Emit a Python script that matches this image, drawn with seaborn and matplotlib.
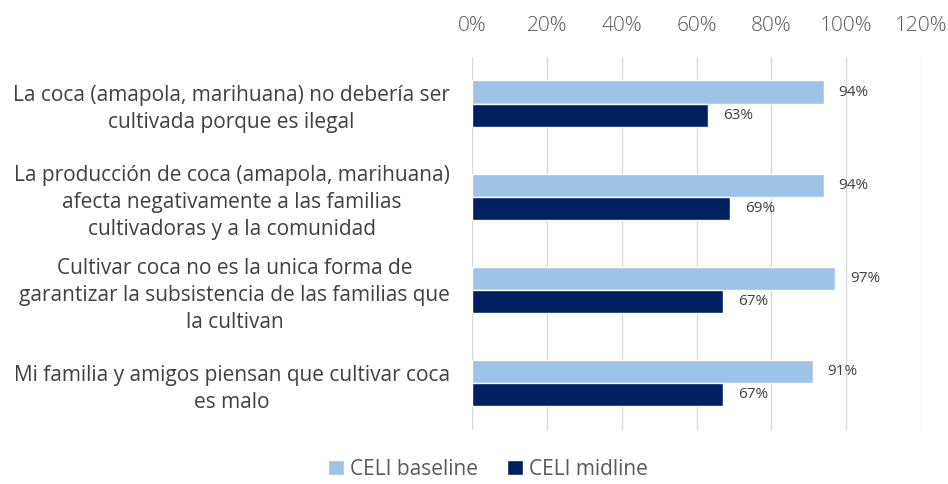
import pandas as pd
import matplotlib
matplotlib.use('Agg')
import matplotlib.pyplot as plt
import seaborn as sns
from matplotlib.patches import Patch

statements = [
    "La coca (amapola, marihuana) no debería ser\ncultivada porque es ilegal",
    "La producción de coca (amapola, marihuana)\nafecta negativamente a las familias\ncultivadoras y a la comunidad",
    "Cultivar coca no es la unica forma de\ngarantizar la subsistencia de las familias que\nla cultivan",
    "Mi familia y amigos piensan que cultivar coca\nes malo",
]
baseline = [0.94, 0.94, 0.97, 0.91]
midline = [0.63, 0.69, 0.67, 0.67]
series = ["CELI baseline", "CELI midline"]
colors = ["#9DC3E6", "#002060"]

rows = []
for s, b, m in zip(statements, baseline, midline):
    rows.append({"statement": s, "group": series[0], "value": b})
    rows.append({"statement": s, "group": series[1], "value": m})
df = pd.DataFrame(rows)

sns.set_style("white")
plt.rcParams['font.family'] = ['Open Sans', 'DejaVu Sans']

fig, ax = plt.subplots(figsize=(9.48, 4.84), dpi=100)
fig.subplots_adjust(left=0.498, right=0.9715, top=0.882, bottom=0.112)

sns.barplot(data=df, y="statement", x="value", hue="group", order=statements,
            hue_order=series, palette=colors, orient="h", width=0.5,
            saturation=1, ax=ax, legend=False)

for cont in ax.containers:
    for bar in cont:
        w = bar.get_width()
        ax.text(w + 0.04, bar.get_y() + bar.get_height() / 2, f"{w:.0%}",
                va="center", ha="left", fontsize=11, color="#404040")

ax.set_xlim(0, 1.2)
ax.set_xticks([0, 0.2, 0.4, 0.6, 0.8, 1.0, 1.2])
ax.set_xticklabels(["0%", "20%", "40%", "60%", "80%", "100%", "120%"])
ax.xaxis.tick_top()
ax.tick_params(axis="x", length=0, labelsize=15, labelcolor="#595959", pad=15)
ax.tick_params(axis="y", length=0, labelsize=15, labelcolor="#404040", pad=16)
for lab in ax.get_xticklabels():
    lab.set_fontweight("light")
for lab in ax.get_yticklabels():
    lab.set_multialignment("center")
    lab.set_linespacing(1.38)
ax.set_xlabel("")
ax.set_ylabel("")
ax.grid(axis="x", color="#D9D9D9", linewidth=1)
ax.set_axisbelow(True)
for sp in ax.spines.values():
    sp.set_visible(False)

handles = [Patch(facecolor=c, label=s) for c, s in zip(colors, series)]
fig.legend(handles=handles, loc="lower center", bbox_to_anchor=(0.515, -0.03),
           ncol=2, frameon=False, fontsize=15, handlelength=0.75,
           handleheight=0.75, handletextpad=0.3, columnspacing=1.4,
           labelcolor="#595959")

plt.savefig("out.png", dpi=100)
plt.close()
